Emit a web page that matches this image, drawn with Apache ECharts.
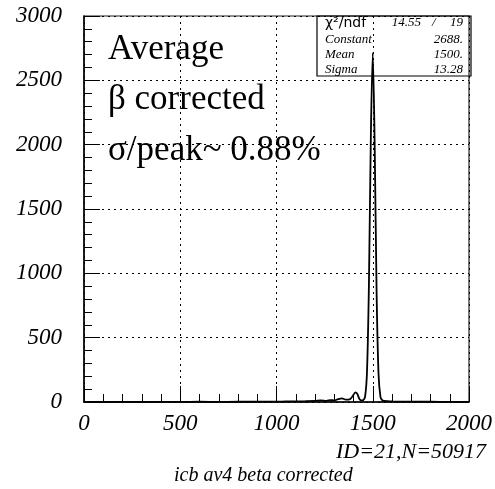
<!DOCTYPE html>
<html>
<head>
<meta charset="utf-8">
<script src="https://cdn.jsdelivr.net/npm/echarts@6/dist/echarts.min.js"></script>
<style>
  html, body { margin: 0; padding: 0; background: #fff; }
  #chart { width: 495px; height: 489px; }
</style>
</head>
<body>
<div id="chart"></div>
<script>
// Histogram of the beta-corrected average (channel vs. entries)
const channels = [0, 100, 200, 300, 400, 500, 600, 700, 800, 900, 1000, 1050, 1100, 1150, 1200, 1230, 1260, 1280, 1300, 1320, 1340, 1360, 1380, 1395, 1410, 1420, 1430, 1440, 1450, 1460, 1470, 1480, 1490, 1500, 1510, 1520, 1530, 1540, 1550, 1560, 1580, 1600, 1700, 1800, 1900, 2000];
const entries  = [0,   0,   1,   0,   1,   1,   2,   1,   2,   2,   3,    4,    5,    6,    8,    12,   9,    15,   12,   22,   28,   18,   20,   45,   75,   62,   25,   12,   14,   40,   230,  900,  2050, 2712, 2000, 850,  220,  40,   12,   8,    6,    4,    3,    2,    1,    0];

// Axis ticks
const xTicks = [0, 500, 1000, 1500, 2000];
const yTicks = [0, 500, 1000, 1500, 2000, 2500, 3000];

// Fit results shown in the statistics box
const statNames  = ['Constant', 'Mean', 'Sigma'];
const statValues = ['2688.', '1500.', '13.28'];
const chi2 = '14.55', ndf = '19';

const serif = 'Liberation Serif, DejaVu Serif, serif';
const chart = echarts.init(document.getElementById('chart'), null, { renderer: 'canvas' });

const series = channels.map((c, i) => [c, entries[i]]);

const graphics = [
  { type: 'text', left: 108, top: 32, style: { text: 'Average', font: '35px ' + serif, fill: '#000' } },
  { type: 'text', left: 108, top: 82, style: { text: 'β corrected', font: '35px ' + serif, fill: '#000' } },
  { type: 'text', left: 108, top: 133, style: { text: 'σ/peak~ 0.88%', font: '35px ' + serif, fill: '#000' } },
  { type: 'rect', shape: { x: 317, y: 16, width: 154, height: 60 }, style: { fill: 'none', stroke: '#000', lineWidth: 1.2 }, z: 10 },
  { type: 'text', left: 325, top: 16, style: { text: 'χ²/ndf', font: '14px DejaVu Sans, sans-serif', fill: '#000' }, z: 11 },
  { type: 'text', right: 74, top: 16, style: { text: chi2, font: 'italic 13px ' + serif, fill: '#000' }, z: 11 },
  { type: 'text', left: 432, top: 16, style: { text: '/', font: 'italic 13px ' + serif, fill: '#000' }, z: 11 },
  { type: 'text', right: 32, top: 16, style: { text: ndf, font: 'italic 13px ' + serif, fill: '#000' }, z: 11 }
];
statNames.forEach((n, i) => {
  graphics.push({ type: 'text', left: 325, top: 33 + i * 15, style: { text: n, font: 'italic 13px ' + serif, fill: '#000' }, z: 11 });
  graphics.push({ type: 'text', right: 32, top: 33 + i * 15, style: { text: statValues[i], font: 'italic 13px ' + serif, fill: '#000' }, z: 11 });
});
graphics.push({ type: 'text', right: 9, top: 441, style: { text: 'ID=21,N=50917', font: 'italic 22px ' + serif, fill: '#000' } });
graphics.push({ type: 'text', left: 174, top: 466, style: { text: 'icb av4 beta corrected', font: 'italic 20px ' + serif, fill: '#000' } });

chart.setOption({
  animation: false,
  backgroundColor: '#fff',
  grid: { left: 84, top: 16, width: 388, height: 386, show: true, borderColor: '#222', borderWidth: 1.2, backgroundColor: 'transparent' },
  xAxis: {
    type: 'value', min: 0, max: 2000, interval: 500,
    axisLine: { show: true, lineStyle: { color: '#000', width: 1.5 } },
    axisTick: { show: true, inside: true, length: 16, lineStyle: { color: '#000' } },
    minorTick: { show: true, splitNumber: 5, length: 8, lineStyle: { color: '#000' } },
    splitLine: { show: true, lineStyle: { color: '#000', type: [2, 4], width: 1 } },
    axisLabel: {
      margin: 10, color: '#000', fontFamily: serif, fontStyle: 'italic', fontSize: 23,
      formatter: v => xTicks.includes(v) ? String(v) : ''
    }
  },
  yAxis: {
    type: 'value', min: 0, max: 3000, interval: 500,
    axisLine: { show: true, lineStyle: { color: '#000', width: 1.5 } },
    axisTick: { show: true, inside: true, length: 16, lineStyle: { color: '#000' } },
    minorTick: { show: true, splitNumber: 5, length: 8, lineStyle: { color: '#000' } },
    splitLine: { show: true, lineStyle: { color: '#000', type: [2, 4], width: 1 } },
    axisLabel: {
      margin: 22, color: '#000', fontFamily: serif, fontStyle: 'italic', fontSize: 23,
      formatter: v => yTicks.includes(v) ? String(v) : ''
    }
  },
  series: [{
    type: 'line', data: series, smooth: 0.3, showSymbol: false,
    lineStyle: { color: '#000', width: 1.8 }, z: 5
  }],
  graphic: graphics
});
</script>
</body>
</html>
